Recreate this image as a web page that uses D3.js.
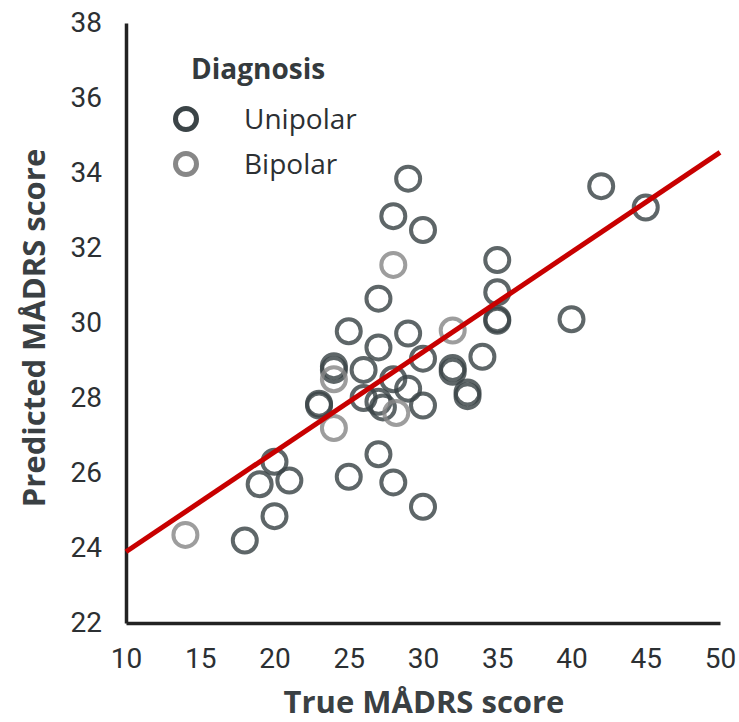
<!DOCTYPE html>
<html>
<head>
<meta charset="utf-8">
<script src="https://cdn.jsdelivr.net/npm/d3@7"></script>
<style>
  html, body { margin: 0; padding: 0; background: #fff; }
  svg { display: block; }
  text { font-family: "Open Sans", "Noto Sans", sans-serif; }
</style>
</head>
<body>
<svg id="chart" width="739" height="722"></svg>
<script>
// ---- data ----
const unipolarTrue = [29, 28, 30, 27, 35, 35, 35, 35, 40, 42, 45, 25, 29, 27, 30, 24, 24, 26, 32, 32, 34, 28, 29, 33, 33, 23, 23, 26, 27, 27.3, 30, 27, 20, 19, 21, 25, 28, 30, 20, 18];
const unipolarPred = [33.85, 32.85, 32.48, 30.65, 31.68, 30.82, 30.1, 30.06, 30.1, 33.65, 33.08, 29.78, 29.72, 29.35, 29.05, 28.85, 28.75, 28.75, 28.8, 28.7, 29.1, 28.5, 28.25, 28.15, 28.05, 27.85, 27.8, 28.0, 27.9, 27.75, 27.8, 26.5, 26.3, 25.7, 25.8, 25.9, 25.75, 25.1, 24.85, 24.2];
const bipolarTrue = [28, 32, 24, 28.2, 24, 14];
const bipolarPred = [31.55, 29.8, 28.5, 27.6, 27.2, 24.35];
const fitX = [10, 50];
const fitY = [23.9, 34.55];
const xTicks = [10, 15, 20, 25, 30, 35, 40, 45, 50];
const yTicks = [22, 24, 26, 28, 30, 32, 34, 36, 38];
const legendItems = ["Unipolar", "Bipolar"];

// ---- drawing ----
const svg = d3.select("#chart");
const x = d3.scaleLinear().domain([10, 50]).range([126, 720]);
const y = d3.scaleLinear().domain([22, 38]).range([623, 23]);
const colors = { Unipolar: "#3b4447", Bipolar: "#878787" };

// axes
const xAxis = svg.append("g").attr("transform", "translate(0,623)")
  .call(d3.axisBottom(x).tickValues(xTicks).tickSize(0).tickSizeOuter(0).tickPadding(25).tickFormat(d3.format("d")));
const yAxis = svg.append("g").attr("transform", "translate(126,0)")
  .call(d3.axisLeft(y).tickValues(yTicks).tickSize(0).tickSizeOuter(0).tickPadding(24).tickFormat(d3.format("d")));
[xAxis, yAxis].forEach(g => {
  g.select(".domain").attr("stroke", "#222").attr("stroke-width", 3.5);
  g.selectAll("text").attr("font-size", 28).attr("fill", "#2c3033")
    .style("font-family", "Roboto, 'Open Sans', sans-serif");
});

// points
const uni = unipolarTrue.map((v, i) => ({ t: v, p: unipolarPred[i], g: "Unipolar" }));
const bi = bipolarTrue.map((v, i) => ({ t: v, p: bipolarPred[i], g: "Bipolar" }));
svg.append("g").selectAll("circle").data(uni.concat(bi)).join("circle")
  .attr("cx", d => x(d.t)).attr("cy", d => y(d.p)).attr("r", 12)
  .attr("fill", "none").attr("stroke", d => colors[d.g])
  .attr("stroke-width", 4).attr("stroke-opacity", 0.82);

// regression line
svg.append("line")
  .attr("x1", x(fitX[0])).attr("y1", y(fitY[0]))
  .attr("x2", x(fitX[1])).attr("y2", y(fitY[1]))
  .attr("stroke", "#c80000").attr("stroke-width", 5);

// legend
svg.append("text").attr("x", 191).attr("y", 79).text("Diagnosis")
  .attr("font-size", 28).attr("font-weight", 700).attr("fill", "#343a3d");
const lg = svg.append("g").selectAll("g").data(legendItems).join("g")
  .attr("transform", (d, i) => `translate(0,${119 + i 
  * 45})`);
lg.append("circle").attr("cx", 186).attr("cy", 0).attr("r", 10.5)
  .attr("fill", "none").attr("stroke", d => colors[d]).attr("stroke-width", 5);
lg.append("text").attr("x", 244).attr("y", 0).attr("dy", "0.35em").text(d => d)
  .attr("font-size", 28).attr("fill", "#2c3033");

// axis titles
svg.append("text").attr("x", 424).attr("y", 713).attr("text-anchor", "middle")
  .text("True MÅDRS score").attr("font-size", 31).attr("font-weight", 700).attr("fill", "#3a4043");
svg.append("text").attr("transform", "translate(45,328) rotate(-90)").attr("text-anchor", "middle")
  .text("Predicted MÅDRS score").attr("font-size", 31).attr("font-weight", 700).attr("fill", "#3a4043");
</script>
</body>
</html>
